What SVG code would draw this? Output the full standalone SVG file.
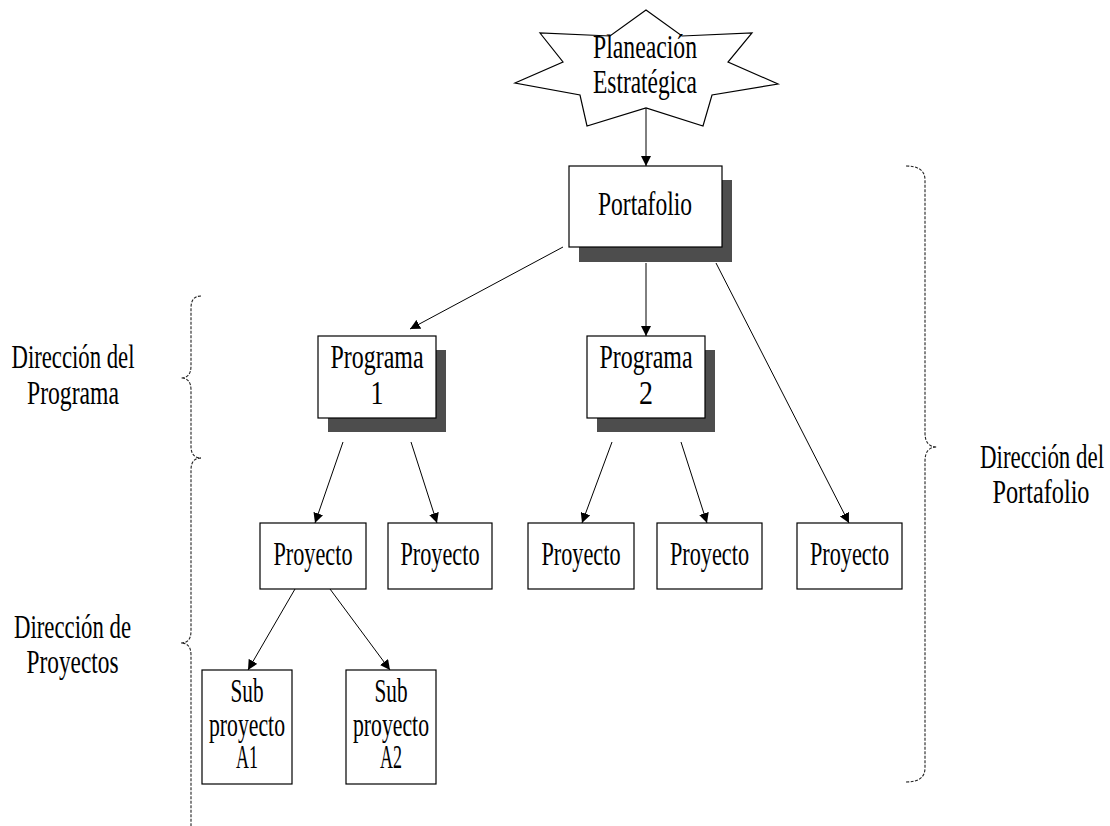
<svg xmlns="http://www.w3.org/2000/svg" width="1110" height="826" viewBox="0 0 1110 826">
  <defs>
    <marker id="arrow" viewBox="0 0 10 10" refX="10" refY="5" markerWidth="10" markerHeight="10" markerUnits="userSpaceOnUse" orient="auto">
      <path d="M0,0 L10,5 L0,10 z" fill="#000"/>
    </marker>
    <style>
      text { font-family: "Liberation Serif", "Times New Roman", serif; font-size: 33px; fill: #000; text-anchor: middle; }
      .box { fill: #fff; stroke: #000; stroke-width: 1.2; }
      .shadow { fill: #4d4d4d; }
      .edge { stroke: #000; stroke-width: 1; fill: none; marker-end: url(#arrow); }
      .brace { stroke: #222; stroke-width: 1.1; fill: none; stroke-dasharray: 3 1.5; }
    </style>
  </defs>
  <rect width="1110" height="826" fill="#fff"/>

  <!-- Strategic planning star -->
  <g id="planeacion">
    <polygon class="box" points="646,10 682,36 752,33 728,62 778,84 712,95 703,126 646,108 587,126 580,95 515,83 563,62 540,33 610,36"/>
    <text x="645" y="58" textLength="104" lengthAdjust="spacingAndGlyphs">Planeación</text>
    <text x="645" y="93" textLength="104" lengthAdjust="spacingAndGlyphs">Estratégica</text>
  </g>

  <!-- Portfolio -->
  <g id="portafolio">
    <rect class="shadow" x="579" y="180" width="153" height="82"/>
    <rect class="box" x="569" y="166" width="153" height="81"/>
    <text x="645" y="215" textLength="94" lengthAdjust="spacingAndGlyphs">Portafolio</text>
  </g>

  <!-- Programs -->
  <g id="programa1">
    <rect class="shadow" x="328" y="350" width="118" height="82"/>
    <rect class="box" x="318" y="336" width="118" height="82"/>
    <text x="377" y="368" textLength="93" lengthAdjust="spacingAndGlyphs">Programa</text>
    <text x="377" y="404" textLength="13" lengthAdjust="spacingAndGlyphs">1</text>
  </g>
  <g id="programa2">
    <rect class="shadow" x="597" y="350" width="118" height="82"/>
    <rect class="box" x="587" y="336" width="118" height="82"/>
    <text x="646" y="368" textLength="93" lengthAdjust="spacingAndGlyphs">Programa</text>
    <text x="646" y="404" textLength="14" lengthAdjust="spacingAndGlyphs">2</text>
  </g>

  <!-- Projects -->
  <g id="proyecto1">
    <rect class="box" x="260" y="523" width="106" height="66"/>
    <text x="313" y="565" textLength="79" lengthAdjust="spacingAndGlyphs">Proyecto</text>
  </g>
  <g id="proyecto2">
    <rect class="box" x="388" y="523" width="104" height="66"/>
    <text x="440" y="565" textLength="79" lengthAdjust="spacingAndGlyphs">Proyecto</text>
  </g>
  <g id="proyecto3">
    <rect class="box" x="528" y="523" width="106" height="66"/>
    <text x="581" y="565" textLength="79" lengthAdjust="spacingAndGlyphs">Proyecto</text>
  </g>
  <g id="proyecto4">
    <rect class="box" x="657" y="523" width="105" height="66"/>
    <text x="709.5" y="565" textLength="79" lengthAdjust="spacingAndGlyphs">Proyecto</text>
  </g>
  <g id="proyecto5">
    <rect class="box" x="797" y="523" width="105" height="66"/>
    <text x="849.5" y="565" textLength="79" lengthAdjust="spacingAndGlyphs">Proyecto</text>
  </g>

  <!-- Sub-projects -->
  <g id="subproyectoA1">
    <rect class="box" x="202" y="670" width="90" height="114"/>
    <text x="247" y="702" textLength="33" lengthAdjust="spacingAndGlyphs">Sub</text>
    <text x="247" y="736" textLength="76" lengthAdjust="spacingAndGlyphs">proyecto</text>
    <text x="247" y="768" textLength="22" lengthAdjust="spacingAndGlyphs">A1</text>
  </g>
  <g id="subproyectoA2">
    <rect class="box" x="346" y="670" width="90" height="114"/>
    <text x="391" y="702" textLength="33" lengthAdjust="spacingAndGlyphs">Sub</text>
    <text x="391" y="736" textLength="76" lengthAdjust="spacingAndGlyphs">proyecto</text>
    <text x="391" y="768" textLength="22" lengthAdjust="spacingAndGlyphs">A2</text>
  </g>

  <!-- Connectors -->
  <g id="connectors">
    <line class="edge" x1="646" y1="108" x2="646" y2="166"/>
    <line class="edge" x1="563" y1="247" x2="410" y2="329"/>
    <line class="edge" x1="646" y1="263" x2="646" y2="336"/>
    <line class="edge" x1="716" y1="263" x2="849" y2="523"/>
    <line class="edge" x1="343" y1="442" x2="315" y2="523"/>
    <line class="edge" x1="411" y1="442" x2="437" y2="523"/>
    <line class="edge" x1="612" y1="442" x2="582" y2="523"/>
    <line class="edge" x1="681" y1="442" x2="707" y2="523"/>
    <line class="edge" x1="295" y1="589" x2="248" y2="670"/>
    <line class="edge" x1="330" y1="589" x2="390" y2="670"/>
  </g>

  <!-- Management scope braces -->
  <g id="braces">
    <path class="brace" d="M201,296 Q191,296 191,308 L191,366 Q191,378 181,378 Q191,378 191,390 L191,446 Q191,458 201,458"/>
    <path class="brace" d="M201,458 Q191,458 191,470 L191,631 Q191,643 181,643 Q191,643 191,655 L191,830"/>
    <path class="brace" d="M906,166 Q925,166 925,180 L925,433 Q925,447 937,447 Q925,447 925,461 L925,768 Q925,782 906,782"/>
  </g>

  <!-- Scope labels -->
  <g id="label-programa">
    <text x="73" y="368" textLength="123" lengthAdjust="spacingAndGlyphs">Dirección del</text>
    <text x="73" y="404" textLength="92" lengthAdjust="spacingAndGlyphs">Programa</text>
  </g>
  <g id="label-proyectos">
    <text x="72.5" y="638" textLength="117" lengthAdjust="spacingAndGlyphs">Dirección de</text>
    <text x="72.5" y="673" textLength="92" lengthAdjust="spacingAndGlyphs">Proyectos</text>
  </g>
  <g id="label-portafolio">
    <text x="1042" y="468" textLength="124" lengthAdjust="spacingAndGlyphs">Dirección del</text>
    <text x="1041" y="503" textLength="97" lengthAdjust="spacingAndGlyphs">Portafolio</text>
  </g>
</svg>
